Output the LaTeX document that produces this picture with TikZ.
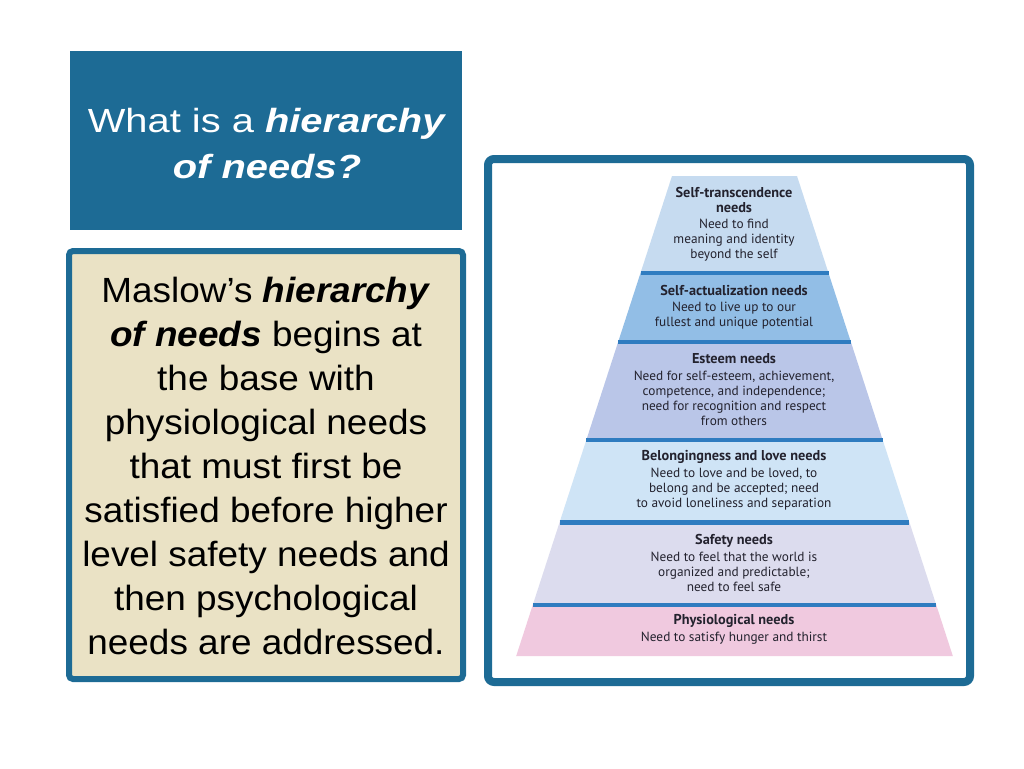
\documentclass[tikz,border=0pt]{standalone}
\usepackage{fontspec}
\setmainfont{Liberation Sans}
\newfontfamily\pyrfont{PT Sans}
\definecolor{framebl}{HTML}{1D6B95}
\definecolor{tanbg}{HTML}{EAE2C5}
\definecolor{bandbl}{HTML}{2F7CC0}
\definecolor{lyrtop}{HTML}{C6DBF0}
\definecolor{lyract}{HTML}{92BEE6}
\definecolor{lyrest}{HTML}{BAC6E8}
\definecolor{lyrbel}{HTML}{CFE4F6}
\definecolor{lyrsaf}{HTML}{DCDCEE}
\definecolor{lyrphy}{HTML}{F0C9DF}
\definecolor{pyrtext}{HTML}{23222E}
\newcommand\lyrhead[1]{{\fontsize{14.3}{15}\selectfont\bfseries #1}}
\tikzset{
  layer/.style={font=\pyrfont\fontsize{13.3}{15}\selectfont,align=center,text=pyrtext,inner sep=0},
  band/.style={draw=bandbl,line width=4.5}
}

\begin{document}
\begin{tikzpicture}[x=1pt,y=-1pt]
\useasboundingbox (0,0) rectangle (1024,768);

\node[fill=framebl,minimum width=392,minimum height=179,inner sep=0] (titlebox) at (266,140.5) {};
\node[draw=framebl,line width=6,fill=tanbg,rounded corners=4,minimum width=394,minimum height=428,inner sep=0] (bodybox) at (266,465) {};
\node[draw=framebl,line width=8,fill=white,rounded corners=6,minimum width=482,minimum height=523,inner sep=0] (framebox) at (729,420.5) {};

\node[anchor=north,inner sep=0,align=center,text=white,font=\fontsize{33.5}{46}\selectfont,xscale=1.19,transform shape] (titletext) at (267,108)
  {What is a \textbf{\textit{hierarchy}}\\\textbf{\textit{of needs?}}};
\node[anchor=north,inner sep=0,align=center,font=\fontsize{35}{44}\selectfont,xscale=1.055,transform shape] (bodytext) at (266,277)
  {Maslow’s \textbf{\textit{hierarchy}}\\\textbf{\textit{of needs}} begins at\\the base with\\physiological needs\\that must first be\\satisfied before higher\\level safety needs and\\then psychological\\needs are addressed.};

\foreach \ya/\yb/\col in {176/271/lyrtop,271/340/lyract,340/438/lyrest,438/520/lyrbel,520/603/lyrsaf,603/656/lyrphy}{
  \pgfmathsetmacro\wa{62.5+0.3246*(\ya-176)}
  \pgfmathsetmacro\wb{62.5+0.3246*(\yb-176)}
  \fill[\col] (734.5-\wa,\ya) -- (734.5+\wa,\ya) -- (734.5+\wb,\yb) -- (734.5-\wb,\yb) -- cycle;
}
\foreach \yc in {273,342,440,522.5,605}{
  \pgfmathsetmacro\wc{62.5+0.3246*(\yc-176)}
  \draw[band] (734.5-\wc,\yc) -- (734.5+\wc,\yc);
}

\node[layer] (selftr) at (734,224) {\lyrhead{Self-transcendence}\\\lyrhead{needs}\\[1pt]Need to find\\meaning and identity\\beyond the self};
\node[layer] (selfact) at (734,307.5) {\lyrhead{Self-actualization needs}\\[1pt]Need to live up to our\\fullest and unique potential};
\node[layer] (esteem) at (734,390) {\lyrhead{Esteem needs}\\[2pt]Need for self-esteem, achievement,\\competence, and independence;\\need for recognition and respect\\from others};
\node[layer] (belong) at (734,480) {\lyrhead{Belongingness and love needs}\\[2pt]Need to love and be loved, to\\belong and be accepted; need\\to avoid loneliness and separation};
\node[layer] (safety) at (734,562.5) {\lyrhead{Safety needs}\\[2pt]Need to feel that the world is\\organized and predictable;\\need to feel safe};
\node[layer] (physio) at (734,629.5) {\lyrhead{Physiological needs}\\[2pt]Need to satisfy hunger and thirst};
\end{tikzpicture}
\end{document}
